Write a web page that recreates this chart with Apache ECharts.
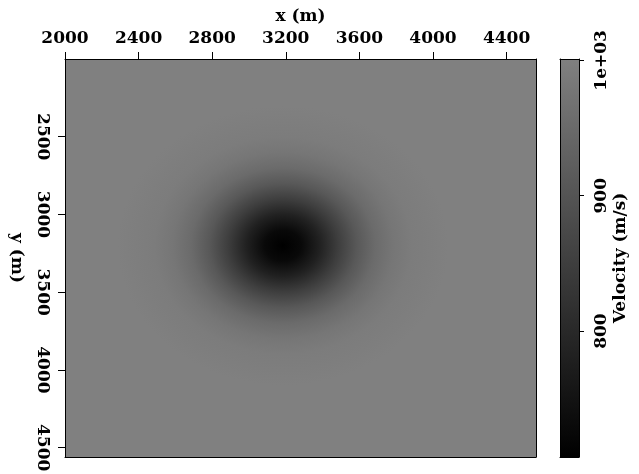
<!DOCTYPE html>
<html>
<head>
<meta charset="utf-8">
<script src="https://cdn.jsdelivr.net/npm/echarts@6/dist/echarts.min.js"></script>
<style>
  html, body { margin: 0; padding: 0; background: #fff; }
  #chart { width: 639px; height: 474px; }
</style>
</head>
<body>
<div id="chart"></div>
<script>
// Model extent (m)
const X_EXTENT = [2000, 4560];
const Y_EXTENT = [2000, 4560];

// Axis ticks
const X_TICKS = [2000, 2400, 2800, 3200, 3600, 4000, 4400];
const Y_TICKS = [2500, 3000, 3500, 4000, 4500];
const V_TICKS = [800, 900, 1000];
const V_TICK_LABELS = ['800', '900', '1e+03'];

// Velocity model: constant background with a low-velocity anomaly
const BACKGROUND_VELOCITY = 1000;
const ANOMALY_CENTER = [3185, 3200];
// Radial velocity profile of the anomaly (distance from centre in m, velocity in m/s)
const PROFILE_RADIUS = [0, 100, 200, 300, 400, 500, 600, 700, 800, 900];
const PROFILE_VELOCITY = [707, 728, 782, 850, 910, 953, 979, 992, 997, 1000];

// Colour scale range (m/s)
const V_RANGE = [707, 1001];

const FONT = '"DejaVu Serif", serif';

// Grey colour map: black at minimum, mid grey at maximum
function greyOf(v) {
  const t = Math.max(0, Math.min(1, (v - V_RANGE[0]) / (V_RANGE[1] - V_RANGE[0])));
  const g = Math.round(128 * t);
  return 'rgb(' + g + ',' + g + ',' + g + ')';
}

const chart = echarts.init(document.getElementById('chart'), null, { renderer: 'canvas' });

const labelStyle = { color: '#000', fontFamily: FONT, fontWeight: 'bold', fontSize: 17 };
const blackLine = { color: '#000', width: 1 };

function borderAxis(gridIndex, position, min, max, inverse) {
  return {
    type: 'value', gridIndex, position, min, max, inverse: !!inverse, z: 10,
    axisLine: { show: true, onZero: false, lineStyle: blackLine },
    axisTick: { show: false }, axisLabel: { show: false }, splitLine: { show: false }
  };
}

const option = {
  animation: false,
  backgroundColor: '#fff',
  grid: [
    { left: 65, top: 59, width: 471, height: 398, containLabel: false, outerBoundsMode: 'none' },
    { left: 560, top: 59, width: 19, height: 398, containLabel: false, outerBoundsMode: 'none' }
  ],
  xAxis: [
    {
      type: 'value', gridIndex: 0, position: 'top', min: X_EXTENT[0], max: X_EXTENT[1], z: 10,
      axisLine: { show: true, onZero: false, lineStyle: blackLine },
      axisTick: { show: true, inside: false, length: 7, customValues: X_TICKS, lineStyle: blackLine },
      axisLabel: { customValues: X_TICKS, margin: 12, formatter: v => String(v), ...labelStyle },
      splitLine: { show: false },
      name: 'x (m)', nameLocation: 'middle', nameGap: 34,
      nameTextStyle: { ...labelStyle }
    },
    borderAxis(0, 'bottom', X_EXTENT[0], X_EXTENT[1]),
    borderAxis(1, 'top', 0, 1),
    borderAxis(1, 'bottom', 0, 1)
  ],
  yAxis: [
    {
      type: 'value', gridIndex: 0, position: 'left', inverse: true,
      min: Y_EXTENT[0], max: Y_EXTENT[1], z: 10,
      axisLine: { show: true, onZero: false, lineStyle: blackLine },
      axisTick: { show: true, inside: false, length: 7, customValues: Y_TICKS, lineStyle: blackLine },
      axisLabel: { customValues: Y_TICKS, rotate: -90, margin: 14, formatter: v => String(v), ...labelStyle },
      splitLine: { show: false },
      name: 'y (m)', nameLocation: 'middle', nameRotate: -90, nameGap: 40,
      nameTextStyle: { ...labelStyle }
    },
    borderAxis(0, 'right', Y_EXTENT[0], Y_EXTENT[1], true),
    {
      type: 'value', gridIndex: 1, position: 'right', min: V_RANGE[0], max: V_RANGE[1], z: 10,
      axisLine: { show: true, onZero: false, lineStyle: blackLine },
      axisTick: { show: true, inside: false, length: 5, customValues: V_TICKS, lineStyle: blackLine },
      axisLabel: {
        customValues: V_TICKS, rotate: 90, margin: 14, ...labelStyle,
        formatter: v => V_TICK_LABELS[V_TICKS.indexOf(v)]
      },
      splitLine: { show: false },
      name: 'Velocity (m/s)', nameLocation: 'middle', nameRotate: 90, nameGap: 33,
      nameTextStyle: { ...labelStyle }
    },
    borderAxis(1, 'left', V_RANGE[0], V_RANGE[1])
  ],
  series: [
    {
      // constant background velocity over the whole model
      type: 'custom', xAxisIndex: 0, yAxisIndex: 0, z: 1,
      data: [[X_EXTENT[0], Y_EXTENT[0], X_EXTENT[1], Y_EXTENT[1], BACKGROUND_VELOCITY]],
      renderItem: (params, api) => {
        const a = api.coord([api.value(0), api.value(1)]);
        const b = api.coord([api.value(2), api.value(3)]);
        return {
          type: 'rect',
          shape: {
            x: Math.min(a[0], b[0]), y: Math.min(a[1], b[1]),
            width: Math.abs(b[0] - a[0]), height: Math.abs(b[1] - a[1])
          },
          style: { fill: greyOf(api.value(4)) }
        };
      }
    },
    {
      // low-velocity anomaly, radially symmetric in model coordinates
      type: 'custom', xAxisIndex: 0, yAxisIndex: 0, z: 2,
      data: [ANOMALY_CENTER],
      renderItem: (params, api) => {
        const c = api.coord([api.value(0), api.value(1)]);
        const rMax = PROFILE_RADIUS[PROFILE_RADIUS.length - 1];
        const s = api.size([rMax, rMax]);
        const rx = Math.abs(s[0]), ry = Math.abs(s[1]);
        const stops = PROFILE_RADIUS.map((r, i) => ({
          offset: r / rMax, color: greyOf(PROFILE_VELOCITY[i])
        }));
        return {
          type: 'circle',
          shape: { cx: c[0], cy: c[1], r: rx },
          originX: c[0], originY: c[1],
          scaleX: 1, scaleY: ry / rx,
          style: { fill: new echarts.graphic.RadialGradient(0.5, 0.5, 0.5, stops) }
        };
      }
    },
    {
      // colour bar
      type: 'custom', xAxisIndex: 2, yAxisIndex: 2, z: 1,
      data: [[0, V_RANGE[0], 1, V_RANGE[1]]],
      renderItem: (params, api) => {
        const a = api.coord([api.value(0), api.value(3)]);
        const b = api.coord([api.value(2), api.value(1)]);
        return {
          type: 'rect',
          shape: { x: a[0], y: a[1], width: b[0] - a[0], height: b[1] - a[1] },
          style: {
            fill: new echarts.graphic.LinearGradient(0, 0, 0, 1, [
              { offset: 0, color: greyOf(api.value(3)) },
              { offset: 1, color: greyOf(api.value(1)) }
            ])
          }
        };
      }
    }
  ]
};

chart.setOption(option);
</script>
</body>
</html>
